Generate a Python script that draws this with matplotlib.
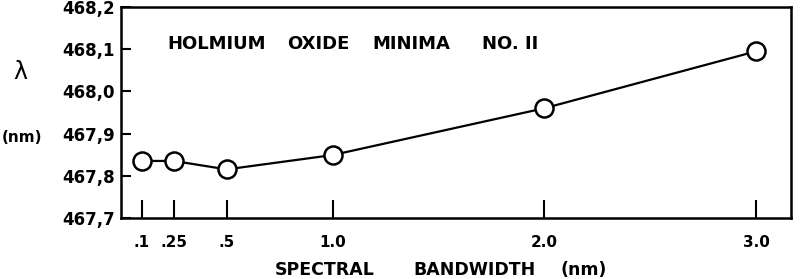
import matplotlib
matplotlib.use("Agg")
import matplotlib.pyplot as plt

bandwidth = [0.1, 0.25, 0.5, 1.0, 2.0, 3.0]
wavelength = [467.835, 467.835, 467.815, 467.849, 467.96, 468.095]
xtick_vals = [0.1, 0.25, 0.5, 1.0, 2.0, 3.0]
xtick_labels = [".1", ".25", ".5", "1.0", "2.0", "3.0"]
ytick_vals = [467.7, 467.8, 467.9, 468.0, 468.1, 468.2]
ytick_labels = ["467,7", "467,8", "467,9", "468,0", "468,1", "468,2"]
title_words = ["HOLMIUM", "OXIDE", "MINIMA", "NO. II"]
xlabel_words = ["SPECTRAL", "BANDWIDTH", "(nm)"]

plt.rcParams['font.family'] = ['DejaVu Sans']

W, H = 800, 279
fig = plt.figure(figsize=(8, 2.79), dpi=100)
ax = fig.add_axes([0.151, 0.219, 0.838, 0.756])

ax.plot(bandwidth, wavelength, color='black', lw=1.6, marker='o', ms=13,
        mfc='white', mec='black', mew=1.8, zorder=3)

ax.set_xlim(0, 3.165)
ax.set_ylim(467.7, 468.2)
ax.set_xticks(xtick_vals)
ax.set_xticklabels(xtick_labels, fontsize=11, fontweight='bold')
ax.set_yticks(ytick_vals)
ax.set_yticklabels(ytick_labels, fontsize=12, fontweight='bold')
ax.tick_params(axis='x', direction='in', length=13, width=1.5, pad=12)
ax.tick_params(axis='y', direction='in', length=7, width=1.5, pad=4)
for s in ax.spines.values():
    s.set_linewidth(1.8)

for word, xp in zip(title_words, [167, 287, 372, 482]):
    fig.text(xp / W, 1 - 44 / H, word, fontsize=13, fontweight='bold',
             ha='left', va='center')

fig.text(20 / W, 1 - 72 / H, "λ", fontsize=17, ha='center', va='center')
fig.text(22 / W, 1 - 138 / H, "(nm)", fontsize=11, fontweight='bold',
         ha='center', va='center')
for word, xp in zip(xlabel_words, [275, 413, 560]):
    fig.text(xp / W, 1 - 270 / H, word, fontsize=12.5, fontweight='bold',
             ha='left', va='center')

fig.savefig("out.png", dpi=100)
